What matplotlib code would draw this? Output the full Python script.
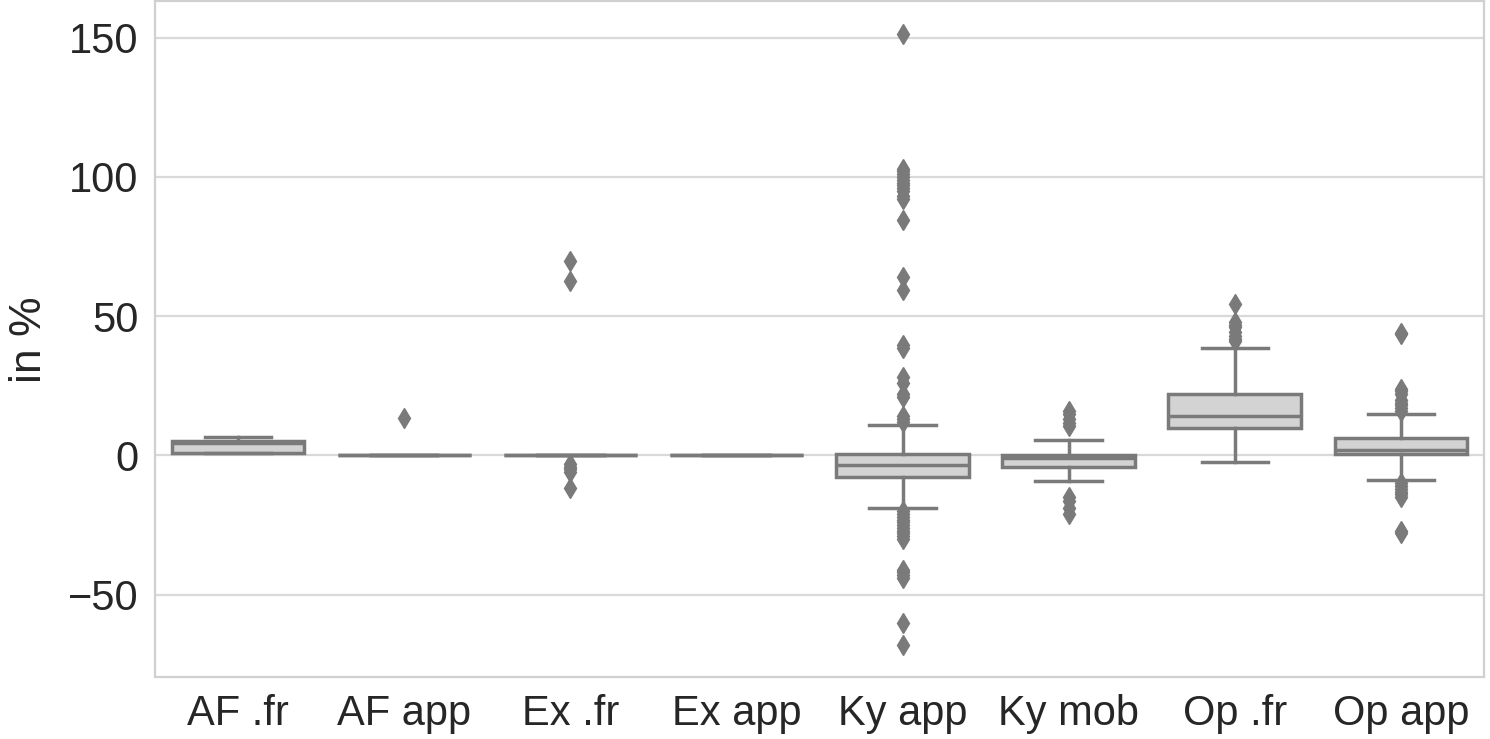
import matplotlib.pyplot as plt
from matplotlib import rc

# Box statistics (in %)
categories = ["AF .fr", "AF app", "Ex .fr", "Ex app", "Ky app", "Ky mob", "Op .fr", "Op app"]
q1 = [1.0, 0.0, 0.0, 0.0, -7.8, -4.0, 10.0, 0.4]
medians = [4.5, 0.0, 0.0, 0.0, -3.5, -1.0, 14.3, 2.0]
q3 = [5.3, 0.0, 0.0, 0.0, 0.4, 0.3, 22.2, 6.4]
whisker_low = [1.0, 0.0, 0.0, 0.0, -19.0, -9.0, -2.5, -8.9]
whisker_high = [6.8, 0.0, 0.0, 0.0, 11.0, 5.5, 38.7, 15.0]
outliers = [
    [],
    [13.6],
    [70.0, 62.5, -3.0, -4.0, -5.0, -6.0, -11.5],
    [],
    [151.5, 103, 102, 101, 100, 99, 98, 97, 96, 95, 93, 92, 84.5, 64, 59.5,
     39.5, 38.5, 28, 26, 22, 21, 14, 13, 12,
     -20, -21, -22, -23, -24, -25, -26, -27, -28, -29, -30,
     -41, -42, -43, -44, -60, -68],
    [16, 15, 13, 11.5, 10.5, -15, -16.5, -19, -21],
    [54.5, 48, 47, 46, 44.5, 43, 42, 41],
    [44, 43.5, 24, 23, 22, 20, 19, 18, 17, 16,
     -10, -11, -12, -13, -14, -15, -27, -28],
]


def plot_boxes(ax):
    stats = []
    for i in range(len(categories)):
        stats.append({"label": categories[i], "q1": q1[i], "med": medians[i],
                      "q3": q3[i], "whislo": whisker_low[i],
                      "whishi": whisker_high[i], "fliers": outliers[i]})

    line_col = "#7a7a7a"
    lw = 2.5
    ax.bxp(stats, positions=range(len(categories)), widths=0.8,
           patch_artist=True, showfliers=True,
           boxprops=dict(facecolor="#d3d3d3", edgecolor=line_col, linewidth=lw),
           medianprops=dict(color=line_col, linewidth=lw),
           whiskerprops=dict(color=line_col, linewidth=lw),
           capprops=dict(color=line_col, linewidth=lw),
           capwidths=0.4,
           flierprops=dict(marker="d", markerfacecolor=line_col,
                           markeredgecolor=line_col, markersize=10.5))

    # Set plot settings
    ax.set_xlim(-0.5, len(categories) - 0.5)
    ax.set_ylim(-79.5, 163)
    ax.set_yticks([-50, 0, 50, 100, 150])
    ax.set_ylabel("in %", fontsize=32, labelpad=13, color="#262626")
    ax.yaxis.grid(True, color="#d9d9d9", linewidth=1.6)
    ax.xaxis.grid(False)
    ax.set_axisbelow(True)
    for s in ax.spines.values():
        s.set_color("#d0d0d0")
        s.set_linewidth(1.6)
    ax.tick_params(length=0, pad=12, colors="#262626")


def main():
    # Define fonts
    font = {'family': 'Liberation Sans',
            'weight': 'normal',
            'size': 30}
    rc('font', **font)

    fig = plt.figure(figsize=(14.9, 7.39), dpi=100)
    ax = fig.add_axes([0.104, 0.084, 0.892, 0.914])
    plot_boxes(ax)
    fig.savefig("out.png", dpi=100)


if __name__ == "__main__":
    main()
